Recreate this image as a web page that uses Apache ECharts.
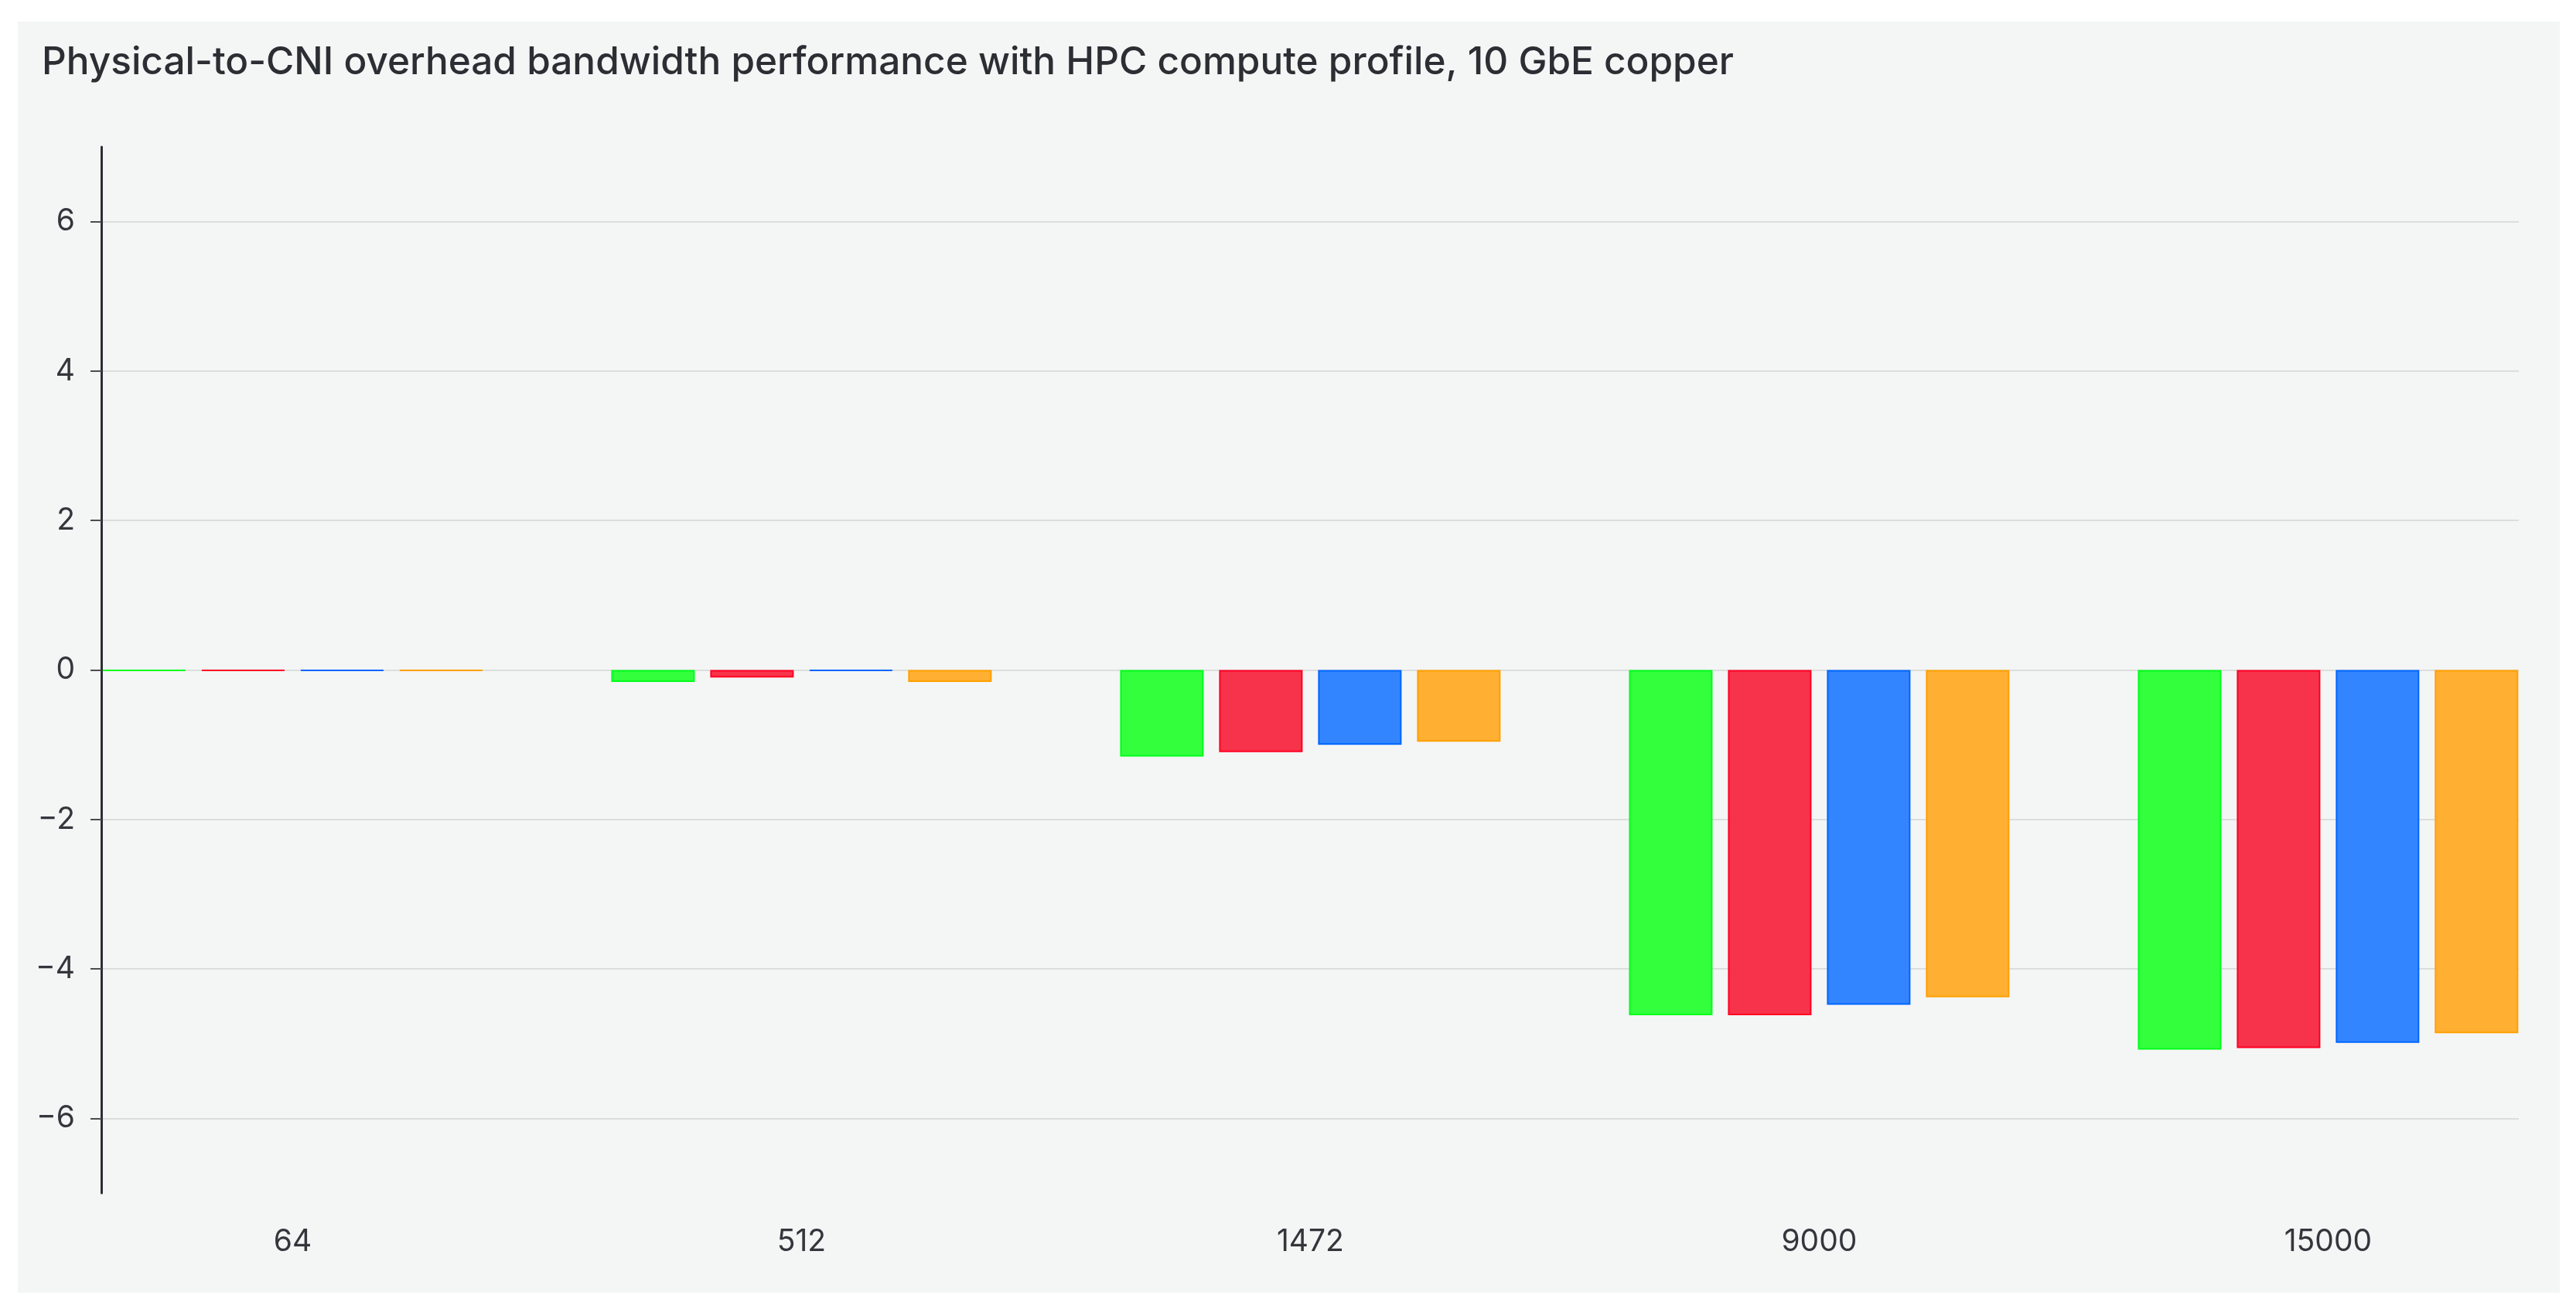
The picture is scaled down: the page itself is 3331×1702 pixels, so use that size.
<!DOCTYPE html>
<html>
<head>
<meta charset="utf-8">
<script src="https://cdn.jsdelivr.net/npm/echarts@6/dist/echarts.min.js"></script>
<style>
  html, body { margin: 0; padding: 0; background: #ffffff; }
  #chart { width: 3331px; height: 1702px; }
</style>
</head>
<body>
<div id="chart"></div>
<script>
const titleText = 'Physical-to-CNI overhead bandwidth performance with HPC compute profile, 10 GbE copper';
const categories = ['64', '512', '1472', '9000', '15000'];
const seriesNames = ['Series 1', 'Series 2', 'Series 3', 'Series 4'];
const greenValues  = [-0.01, -0.16, -1.16, -4.62, -5.08];
const redValues    = [-0.01, -0.10, -1.10, -4.62, -5.06];
const blueValues   = [-0.01, -0.01, -1.00, -4.48, -4.99];
const orangeValues = [-0.01, -0.16, -0.96, -4.38, -4.86];
const yTicks = [-6, -4, -2, 0, 2, 4, 6];
const yMin = -7;
const yMax = 7;

const fills   = ['#33ff3d', '#f7334b', '#3385ff', '#ffb033'];
const borders = ['#00ff1a', '#ff0022', '#0066ff', '#ffa000'];
const allValues = [greenValues, redValues, blueValues, orangeValues];

const chart = echarts.init(document.getElementById('chart'));
const FONT = 'Inter';

const option = {
  backgroundColor: '#ffffff',
  animation: false,
  textStyle: { fontFamily: FONT },
  graphic: [{
    type: 'rect',
    z: -100,
    silent: true,
    shape: { x: 23, y: 28, width: 3287, height: 1644 },
    style: { fill: '#f4f5f5' }
  }],
  title: {
    text: titleText,
    left: 54,
    top: 56,
    padding: 0,
    textStyle: { fontFamily: FONT, fontSize: 49.5, fontWeight: 500, color: '#2b2e33' }
  },
  grid: [
    { left: 131, right: 74, top: 190, bottom: 159, outerBoundsMode: 'none', containLabel: false },
    { left: 49.4, right: -8.4, top: 190, bottom: 159, outerBoundsMode: 'none', containLabel: false }
  ],
  xAxis: [
    { gridIndex: 0, type: 'value', min: 0, max: 1, show: false },
    {
      gridIndex: 1,
      type: 'category',
      data: categories,
      axisLine: { show: false },
      axisTick: { show: false },
      splitLine: { show: false },
      axisLabel: { margin: 44, fontSize: 39, color: '#33363b', fontFamily: FONT }
    }
  ],
  yAxis: [
    {
      gridIndex: 0,
      type: 'value',
      min: yMin,
      max: yMax,
      splitNumber: 7,
      axisLine: { show: true, lineStyle: { color: '#2b2f35', width: 3 } },
      axisTick: { show: true, length: 14, customValues: yTicks, lineStyle: { color: '#4a4d52', width: 2 } },
      axisLabel: {
        show: true, margin: 34, fontSize: 39, color: '#33363b', fontFamily: FONT,
        customValues: yTicks,
        formatter: v => String(v).replace('-', '\u2212')
      },
      splitLine: {
        show: true,
        lineStyle: { color: '#dcdede', width: 2 }
      }
    },
    { gridIndex: 1, type: 'value', min: yMin, max: yMax, show: false, splitLine: { show: false } }
  ],
  series: allValues.map((vals, i) => ({
    name: seriesNames[i],
    type: 'bar',
    xAxisIndex: 1,
    yAxisIndex: 1,
    data: vals,
    barWidth: 108,
    barGap: '18.5%',
    itemStyle: { color: fills[i], borderColor: borders[i], borderWidth: 2 }
  }))
};

chart.setOption(option);
</script>
</body>
</html>
